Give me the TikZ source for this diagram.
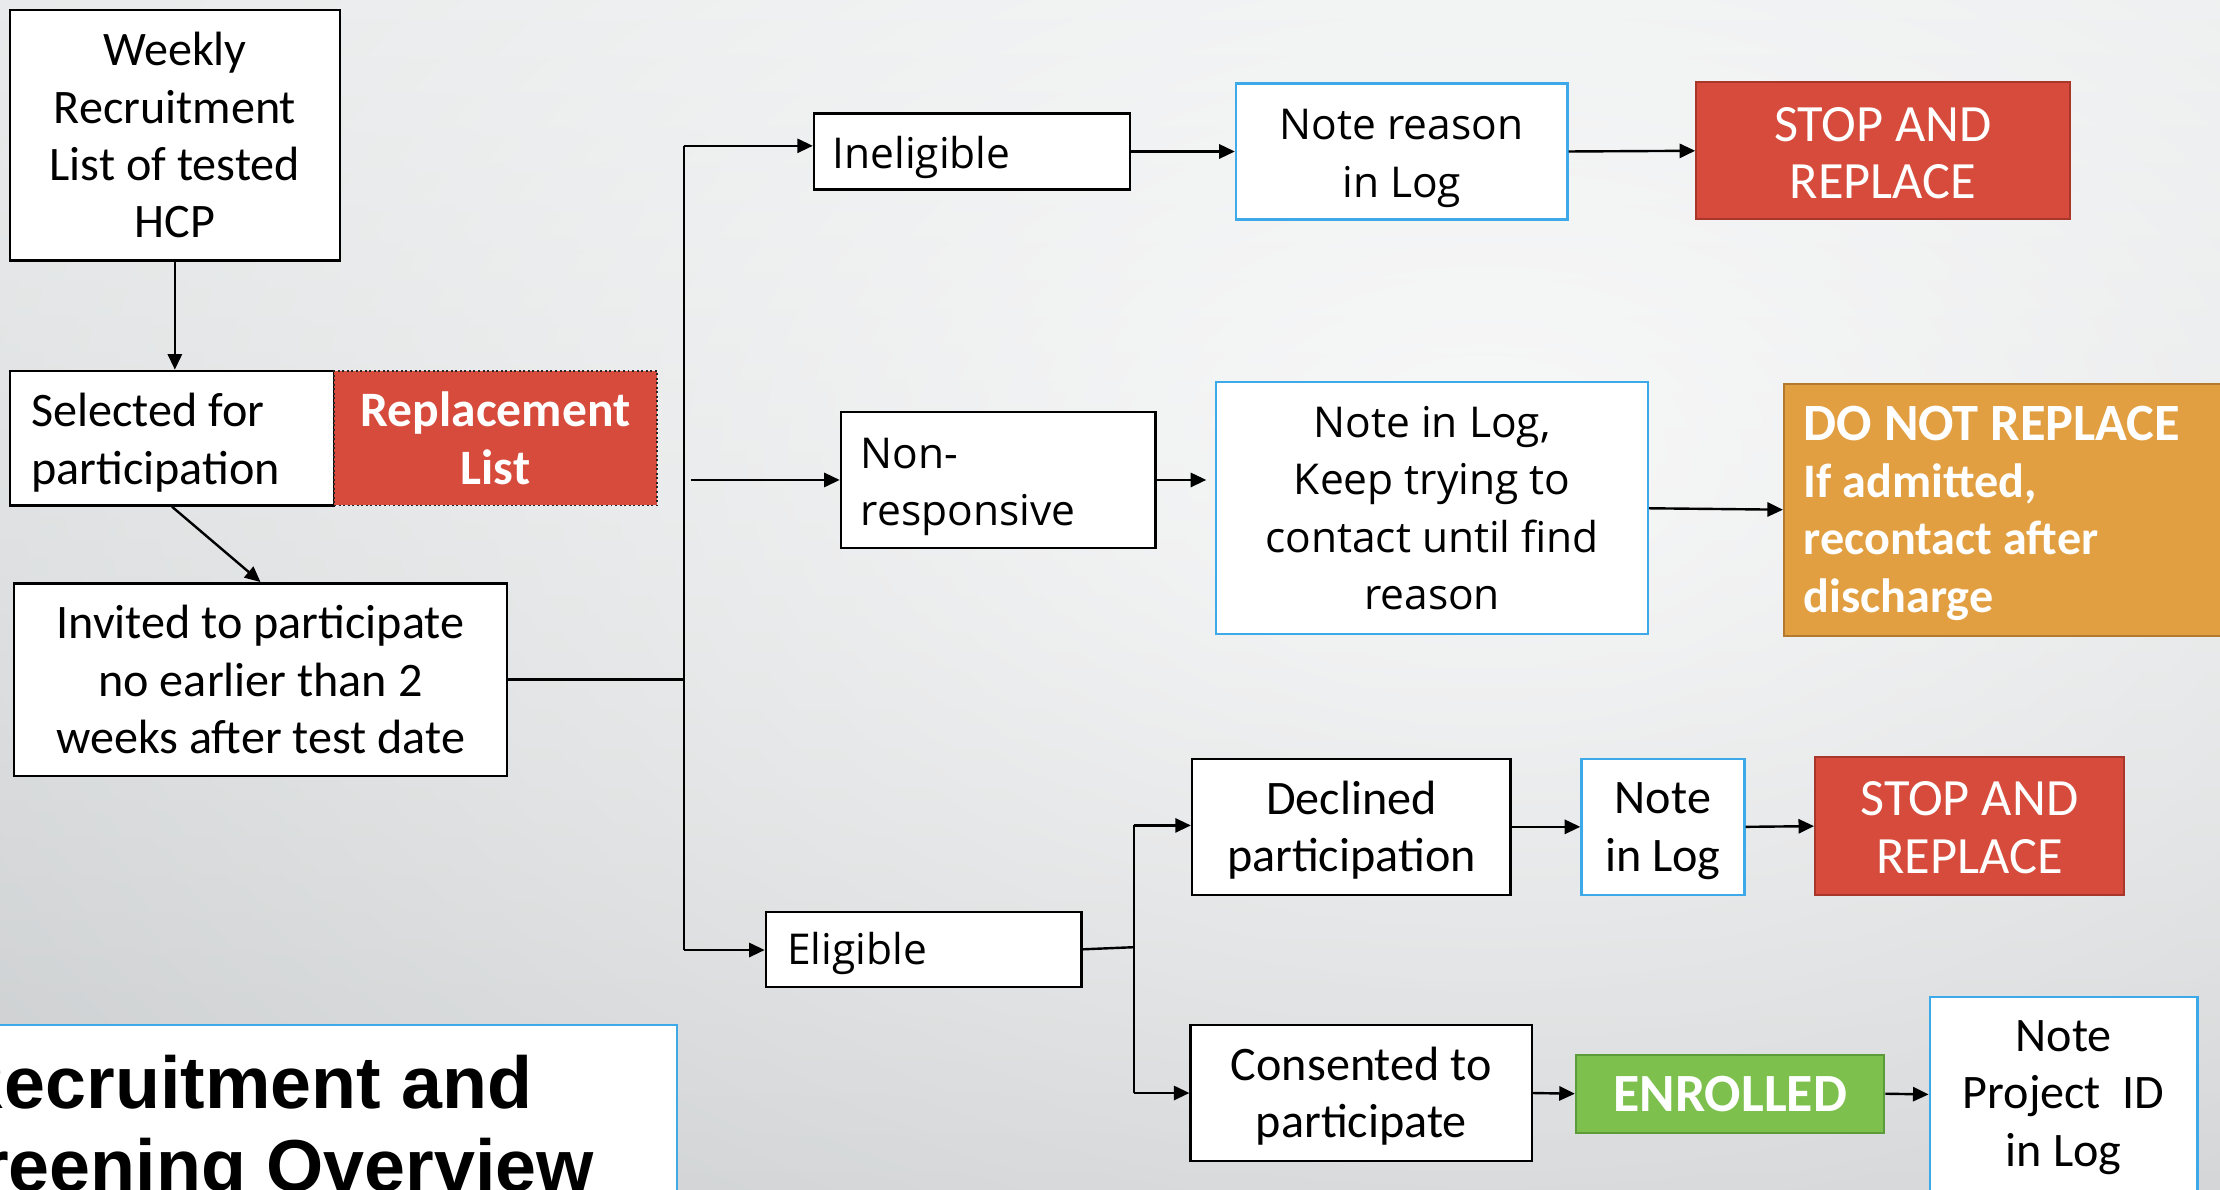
\documentclass[tikz,border=0pt]{standalone}
\usepackage{fontspec}
\setmainfont{Carlito}
\newfontfamily\segoe{Open Sans}
\newfontfamily\arialf{Liberation Sans}
\usetikzlibrary{arrows.meta,fadings}
\tikzfading[name=glowfade, inner color=transparent!0, outer color=transparent!100]
\definecolor{redf}{HTML}{D64B3C}
\definecolor{redb}{HTML}{A8362B}
\definecolor{blueb}{HTML}{3DA9E8}
\definecolor{orgf}{HTML}{E29F41}
\definecolor{orgb}{HTML}{B37A2F}
\definecolor{grnf}{HTML}{7DC04E}
\definecolor{grnb}{HTML}{5C9B3A}
\definecolor{bgtop}{HTML}{E4E6E7}
\definecolor{bgbot}{HTML}{C3C6C8}
\newcommand\cf{\fontsize{34}{40.5}\selectfont}
\newcommand\capf{\fontsize{37}{40.5}\selectfont}
\newcommand\segf{\segoe\fontsize{30}{40.5}\selectfont}
\newcommand\titf{\arialf\bfseries\fontsize{52}{59}\selectfont}
\newcommand\nsp{\spaceskip=0pt\xspaceskip=0pt\relax}
\newcommand\dn[1]{\rule{0pt}{#1pt}}
\begin{document}
\begin{tikzpicture}[x=1pt,y=-1pt,
  blk/.style={draw=black, line width=1.8pt, fill=white, inner ysep=0pt, inner xsep=2pt},
  blu/.style={draw=blueb, line width=1.7pt, fill=white, inner ysep=0pt, inner xsep=2pt},
  redbox/.style={draw=redb, line width=1.4pt, fill=redf, text=white, inner ysep=0pt, inner xsep=2pt},
  arr/.style={line width=1.7pt, -{Triangle[length=11pt,width=10pt]}},
  ln/.style={line width=1.7pt}]
\useasboundingbox (0,0) rectangle (1568,840);
\clip (0,0) rectangle (1568,840);
% background
\shade[top color=bgtop, bottom color=bgbot] (0,0) rectangle (1568,840);
\fill[white, opacity=0.8, path fading=glowfade] (1050,320) ellipse (1500 and 950);

% left column
\node[blk, minimum width=233, minimum height=177, align=center, font=\cf] (weekly) at (123.5,95.5) {Weekly\\Recruitment\\List of tested\\HCP};
\node[blk, minimum height=95, text width=199pt, inner xsep=15pt, align=left, font=\cf] (selected) at (121.5,309.5) {\nsp\dn{30}Selected for\\participation};
\node[draw=black!85, dash pattern=on 1.4pt off 1.8pt, line width=1.3pt, fill=redf, text=white, minimum width=228, minimum height=95, inner ysep=0pt, align=center, font=\fontsize{35}{40.5}\selectfont\bfseries] (repl) at (350,309.5) {Replacement\\List};
\node[blk, minimum width=348, minimum height=136, align=center, font=\cf] (invited) at (184,480) {Invited to participate\\no earlier than 2\\weeks after test date};

% title
\node[blu, minimum width=500, minimum height=140, inner sep=0pt] (titlebox) at (228,794) {};
\node[inner sep=0pt, align=center, font=\titf] (title) at (171,799) {Recruitment and\\Screening Overview};

% branches
\node[blk, minimum height=54, text width=197pt, inner xsep=13pt, align=left, font=\segf] (inelig) at (686.5,107) {\nsp\dn{31}Ineligible};
\node[blu, minimum width=234, minimum height=96, align=center, font=\segf] (noteR) at (990,107) {\dn{31}Note reason\\in Log};
\node[redbox, minimum width=264, minimum height=97, align=center, font=\capf] (stopA) at (1330,106.5) {\dn{27}STOP AND\\REPLACE};

\node[blk, minimum height=96, text width=194pt, inner xsep=14pt, align=left, font=\segf] (nonresp) at (705,339) {\nsp\dn{31}Non-\\responsive};
\node[blu, minimum width=305, minimum height=178, align=center, font=\segf] (noteK) at (1011.5,359) {Note in Log,\\Keep trying to\\contact until find\\reason};
\node[draw=orgb, line width=1.4pt, fill=orgf, text=white, minimum height=178, text width=287pt, inner xsep=14pt, inner ysep=0pt, align=left, font=\fontsize{34}{40.5}\selectfont\bfseries] (donot) at (1417.5,360) {\nsp\dn{29}{\fontsize{37}{40.5}\selectfont DO NOT REPLACE}\\If admitted,\\recontact after\\discharge};

\node[blk, minimum height=53, text width=193pt, inner xsep=15pt, align=left, font=\segf] (elig) at (652.5,670.5) {\nsp\dn{29}Eligible};
\node[blk, minimum width=225, minimum height=96, align=center, font=\cf] (declined) at (954.5,584) {\dn{28}Declined\\participation};
\node[blu, minimum width=115, minimum height=96, align=center, font=\cf] (noteS) at (1174.5,584) {\dn{28}Note\\in Log};
\node[redbox, minimum width=218, minimum height=97, align=center, font=\capf] (stopB) at (1391,583.5) {\dn{26}STOP AND\\REPLACE};

\node[blk, minimum width=241, minimum height=96, align=center, font=\cf] (consent) at (961.5,772) {\dn{28}Consented to\\participate};
\node[draw=grnb, line width=1.4pt, fill=grnf, text=white, minimum width=218, minimum height=55, inner ysep=0pt, align=center, font=\fontsize{38}{40.5}\selectfont\bfseries] (enrolled) at (1222,772.5) {ENROLLED};
\node[blu, minimum width=189, minimum height=138, align=center, font=\cf] (noteP) at (1457.5,773) {\dn{26}Note\\Project~~ID\\in Log};

% junction coordinates
\coordinate (jA) at (483,103);
\coordinate (jI) at (483,480);
\coordinate (jB) at (483,671);
\coordinate (jN) at (488,339);
\coordinate (nK) at (852,339);
\coordinate (jE) at (801,669);
\coordinate (jD) at (801,583);
\coordinate (jC) at (801,772);

% connectors
\draw[arr] (weekly.south) -- (weekly.south |- selected.north);
\draw[arr] (selected.south) -- (invited.north);
\draw[ln] (invited.east) -- (jI);
\draw[ln] (jA) -- (jB);
\draw[arr] (jA) -- (jA -| inelig.west);
\draw[arr] (jN) -- (nonresp.west);
\draw[arr] (jB) -- (jB -| elig.west);
\draw[arr] (inelig.east) -- (noteR.west);
\draw[arr] (noteR.east) -- (stopA.west);
\draw[arr] (nonresp.east) -- (nK);
\draw[arr] (noteK.east) -- (donot.west);
\draw[ln] (elig.east) -- (jE);
\draw[ln] (jD) -- (jC);
\draw[arr] (jD) -- (jD -| declined.west);
\draw[arr] (jC) -- (jC -| consent.west);
\draw[arr] (declined.east) -- (noteS.west);
\draw[arr] (noteS.east) -- (stopB.west);
\draw[arr] (consent.east) -- (enrolled.west);
\draw[arr] (enrolled.east) -- (noteP.west);
\end{tikzpicture}
\end{document}
